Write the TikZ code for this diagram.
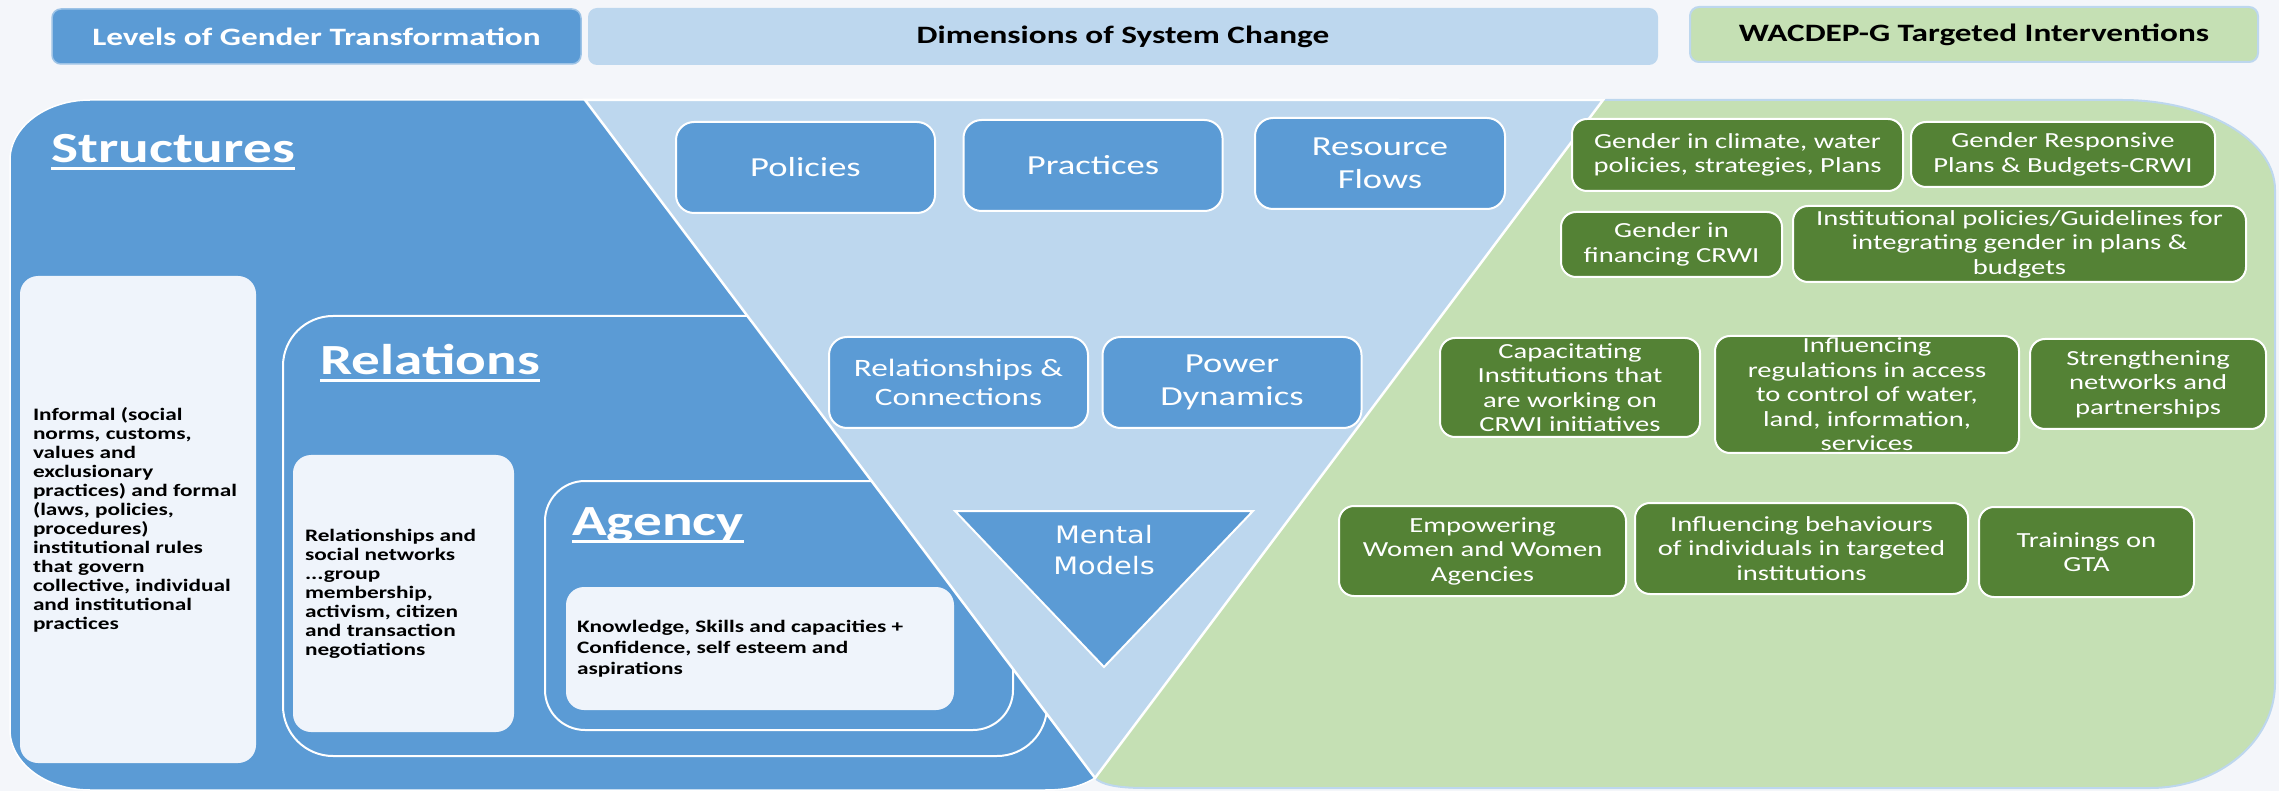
\documentclass[tikz,border=0pt]{standalone}
\usepackage{fontspec}
\setmainfont{Carlito}[FakeStretch=1.33]
\newfontfamily\mentalfont{DejaVu Sans}[FakeStretch=1.2]
\usetikzlibrary{shapes}
\definecolor{pagebg}{HTML}{F4F6FA}
\definecolor{levblue}{HTML}{5B9BD5}
\definecolor{dimblue}{HTML}{BDD7EE}
\definecolor{wacgreen}{HTML}{C5E0B4}
\definecolor{actgreen}{HTML}{548235}
\definecolor{notewhite}{HTML}{EFF4FB}
\definecolor{rimblue}{HTML}{9DC3E6}

\begin{document}
\begin{tikzpicture}[x=1pt,y=-1pt]
	\tikzstyle{every node}=[inner sep=0pt]
	\tikzstyle{hdrbox}=[rounded corners=9pt,font={\fontsize{25}{30}\selectfont\bfseries}]
	\tikzstyle{rim}=[draw=white,line width=2pt]
	\tikzstyle{notebox}=[fill=notewhite,rounded corners=18pt]
	\tikzstyle{notetext}=[anchor=west,align=left,font={\fontsize{17.5}{19}\selectfont\bfseries}]
	\tikzstyle{lvltitle}=[anchor=base west,text=white,font={\fontsize{43}{50}\selectfont\bfseries}]
	\tikzstyle{uline}=[white,line width=3pt]
	\tikzstyle{dimbox}=[rim,fill=levblue,rounded corners=18pt,text=white,align=center,minimum width=259pt,minimum height=91pt,font={\fontsize{27.5}{33}\selectfont}]
	\tikzstyle{actbox}=[rim,fill=actgreen,rounded corners=15pt,text=white,align=center,font={\fontsize{21.5}{24.5}\selectfont}]

	\useasboundingbox (0,0) rectangle (2279,791);
	\fill[pagebg] (0,0) rectangle (2279,791);

	\node[hdrbox,fill=levblue,draw=rimblue,line width=1.5pt,text=white,minimum width=529pt,minimum height=55pt] (hlevels) at (316.5,36.5) {Levels of Gender Transformation};
	\node[hdrbox,fill=dimblue,minimum width=1070pt,minimum height=57pt] (hdims) at (1123,36.5) {Dimensions of System Change};
	\node[hdrbox,fill=wacgreen,draw=dimblue,line width=2pt,minimum width=568pt,minimum height=55pt] (hwacdep) at (1974,34.5) {WACDEP-G Targeted Interventions};

	\filldraw[fill=levblue,draw=white,line width=1.5pt] (10,160) .. controls (10,127) and (46,100) .. (90,100) -- (1000,100) -- (1095,778) .. controls (1080,787) and (1066,790) .. (1045,790) -- (90,790) .. controls (46,790) and (10,763) .. (10,730) -- cycle;
	\filldraw[fill=wacgreen,draw=dimblue,line width=2pt] (1095,778) -- (1400,100) -- (2122,100) .. controls (2206,100) and (2275,140) .. (2275,190) -- (2275,683) .. controls (2275,741) and (2219,788) .. (2150,788) -- (1145,788) .. controls (1115,788) and (1101,784) .. (1095,778) -- cycle;
	\node[rim,rounded corners=50pt,minimum width=764pt,minimum height=440pt] (relbox) at (665,536) {};
	\node[rim,rounded corners=40pt,minimum width=468pt,minimum height=249pt] (agbox) at (779,605.5) {};
	\filldraw[fill=dimblue,draw=white,line width=2.5pt] (585,100) -- (1603,100) -- (1095,778) -- cycle;

	\node[lvltitle] (tstruct) at (51,163) {Structures};
	\draw[uline] ([yshift=-5.5pt]tstruct.base west) -- ([yshift=-5.5pt]tstruct.base east);
	\node[lvltitle] (trel) at (320,375) {Relations};
	\draw[uline] ([yshift=-6pt]trel.base west) -- ([yshift=-6pt]trel.base east);
	\node[lvltitle] (tag) at (572,535) {Agency};
	\draw[uline] ([yshift=-6pt]tag.base west) -- ([yshift=-6pt]tag.base east);

	\node[notebox,minimum width=236pt,minimum height=487pt] (nstruct) at (138,519.5) {};
	\node[notetext] (xstruct) at ([xshift=13pt]nstruct.west) {Informal (social\\norms, customs,\\values and\\exclusionary\\practices) and formal\\(laws, policies,\\procedures)\\institutional rules\\that govern\\collective, individual\\and institutional\\practices};
	\node[notebox,minimum width=221pt,minimum height=277pt] (nrel) at (403.5,593.5) {};
	\node[notetext] (xrel) at ([xshift=12pt]nrel.west) {Relationships and\\social networks\\...group\\membership,\\activism, citizen\\and transaction\\negotiations};
	\node[notebox,minimum width=388pt,minimum height=123pt] (nag) at (760,648.5) {};
	\node[notetext,font={\fontsize{17.5}{21}\selectfont\bfseries}] (xag) at ([xshift=11pt]nag.west) {Knowledge, Skills and capacities +\\Confidence, self esteem and\\aspirations};

	\node[dimbox] (policies) at (805.5,167.5) {Policies};
	\node[dimbox] (practices) at (1093,165.5) {Practices};
	\node[dimbox,minimum width=250pt] (flows) at (1380,163.5) {Resource\\Flows};
	\node[dimbox,font={\fontsize{25}{29}\selectfont}] (relcon) at (958.5,382.5) {Relationships \&\\Connections};
	\node[dimbox] (power) at (1232,382.5) {Power\\Dynamics};
	\filldraw[fill=levblue,draw=white,line width=2pt] (955,511) -- (1253,511) -- (1104,667) -- cycle;
	\node[text=white,align=center,font={\mentalfont\fontsize{24}{31}\selectfont}] (mental) at (1104,550.5) {Mental\\Models};

	\node[actbox,minimum width=331pt,minimum height=72pt] (gclimate) at (1737.5,155) {Gender in climate, water\\policies, strategies, Plans};
	\node[actbox,minimum width=304pt,minimum height=65pt] (gbudget) at (2063,154.5) {Gender Responsive\\Plans \& Budgets-CRWI};
	\node[actbox,minimum width=221pt,minimum height=65pt] (gfinance) at (1671.5,244.5) {Gender in\\financing CRWI};
	\node[actbox,minimum width=453pt,minimum height=76pt] (gguide) at (2019.5,244) {Institutional policies/Guidelines for\\integrating gender in plans \&\\budgets};
	\node[actbox,minimum width=260pt,minimum height=99pt] (gcapac) at (1570,387.5) {Capacitating\\Institutions that\\are working on\\CRWI initiatives};
	\node[actbox,minimum width=304pt,minimum height=117pt] (gaccess) at (1867,394.5) {Influencing\\regulations in access\\to control of water,\\land, information,\\services};
	\node[actbox,minimum width=236pt,minimum height=90pt] (gnetwork) at (2148,384) {Strengthening\\networks and\\partnerships};
	\node[actbox,minimum width=287pt,minimum height=90pt] (gempower) at (1482.5,551) {Empowering\\Women and Women\\Agencies};
	\node[actbox,minimum width=333pt,minimum height=91pt] (gbehave) at (1801.5,548.5) {Influencing behaviours\\of individuals in targeted\\institutions};
	\node[actbox,minimum width=215pt,minimum height=90pt] (gtrain) at (2086.5,552) {Trainings on\\GTA};
\end{tikzpicture}
\end{document}
